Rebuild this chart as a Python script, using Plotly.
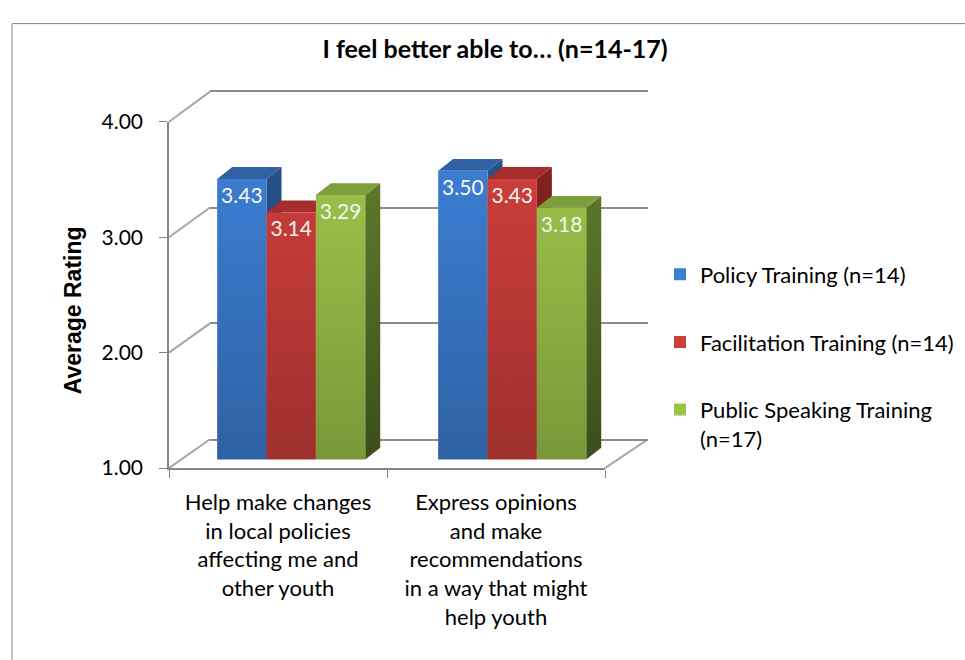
import plotly.graph_objects as go

# ---------------- data ----------------
categories = [
    "Help make changes<br>in local policies<br>affecting me and<br>other youth",
    "Express opinions<br>and make<br>recommendations<br>in a way that might<br>help youth",
]
series_names = [
    "Policy Training (n=14)",
    "Facilitation Training (n=14)",
    "Public Speaking Training<br>(n=17)",
]
policy = [3.43, 3.50]
facilitation = [3.14, 3.43]
public_speaking = [3.29, 3.18]
y_ticks = [1, 2, 3, 4]
title_text = "I feel better able to… (n=14-17)"
y_title = "Average Rating"

# ---------------- styling / geometry ----------------
W, H = 965, 660


def px(x):
    return x / W


def py(y):
    return 1 - y / H


front_colors = ["#3C7ED3", "#CD3E3B", "#9DC44A"]
top_colors = ["#2F61A3", "#A52D2B", "#7C9E3B"]
side_colors = ["#28528C", "#85231F", "#5F7C2B"]
grid_col = "#8C8C8C"
axis_col = "#868686"
FONT = "Lato"

BAR_X = (180.7, 622.7)
BAR_Y = (463, 103)
WALL_X = (210, 648)
WALL_Y = (442, 80.7)
FRONT_X = (169, 605)
FRONT_Y = (472, 112)
Y_RANGE = [1, 4]
X_RANGE = [-0.5, 1.5]

BARGAP = 0.33
bar_w = (1 - BARGAP) / 3
dx = 15 / (BAR_X[1] - BAR_X[0]) * (X_RANGE[1] - X_RANGE[0])
dy = 12.3 / (BAR_Y[0] - BAR_Y[1]) * (Y_RANGE[1] - Y_RANGE[0])

all_series = [policy, facilitation, public_speaking]
group_pos = list(range(len(categories)))

fig = go.Figure()

# subplot 1: back wall (gridlines)
fig.add_trace(go.Scatter(x=[0.5], y=[2], mode="none", showlegend=False,
                         hoverinfo="skip", xaxis="x", yaxis="y"))

# subplot 2: 3D side and top faces (drawn below front faces)
for k, vals in enumerate(all_series):
    sx, sy, tx, ty = [], [], [], []
    for g, v in zip(group_pos, vals):
        xr = g + (k - 1) * bar_w + bar_w / 2
        xl = xr - bar_w
        sx += [xr, xr, xr + dx, xr + dx, xr, None]
        sy += [1, v, v + dy, 1 + dy, 1, None]
        tx += [xl, xr, xr + dx, xl + dx, xl, None]
        ty += [v, v, v + dy, v + dy, v, None]
    fig.add_trace(go.Scatter(
        x=sx, y=sy, mode="lines", fill="toself", line=dict(width=0),
        fillgradient=dict(type="vertical",
                          colorscale=[[0, "rgba(0,0,0,1)"], [1, side_colors[k]]],
                          start=-3, stop=3.6),
        fillcolor=side_colors[k],
        showlegend=False, hoverinfo="skip", xaxis="x2", yaxis="y2"))
    fig.add_trace(go.Scatter(
        x=tx, y=ty, mode="lines", fill="toself", line=dict(width=0),
        fillcolor=top_colors[k], showlegend=False, hoverinfo="skip",
        xaxis="x2", yaxis="y2"))

# subplot 3: front faces (bars)
for k, vals in enumerate(all_series):
    fig.add_trace(go.Bar(
        x=group_pos, y=vals, name=series_names[k],
        marker=dict(color=front_colors[k], line=dict(width=0)),
        texttemplate="%{y:.2f}", textposition="inside", insidetextanchor="end",
        textangle=0, constraintext="none",
        textfont=dict(family=FONT, size=21, color="white"),
        legendgroup=str(k),
        xaxis="x3", yaxis="y3"))

# shading overlay on front faces
ox, oy = [], []
for k, vals in enumerate(all_series):
    for g, v in zip(group_pos, vals):
        xc = g + (k - 1) * bar_w
        ox += [xc - bar_w / 2, xc + bar_w / 2, xc + bar_w / 2, xc - bar_w / 2, xc - bar_w / 2, None]
        oy += [1, 1, v, v, 1, None]
fig.add_trace(go.Scatter(
    x=ox, y=oy, mode="lines", fill="toself", line=dict(width=0),
    fillgradient=dict(type="vertical",
                      colorscale=[[0, "rgba(0,0,0,0.24)"], [1, "rgba(0,0,0,0)"]],
                      start=1, stop=3.6),
    showlegend=False, hoverinfo="skip", xaxis="x3", yaxis="y3"))

# subplot 4: front axes with labels
fig.add_trace(go.Scatter(x=categories, y=[2, 2], mode="none", showlegend=False,
                         hoverinfo="skip", xaxis="x4", yaxis="y4"))

# wall diagonals and floor edge
shapes = []
for v in y_ticks:
    f = (v - Y_RANGE[0]) / (Y_RANGE[1] - Y_RANGE[0])
    yf = py(FRONT_Y[0] + f * (FRONT_Y[1] - FRONT_Y[0]))
    yb = py(WALL_Y[0] + f * (WALL_Y[1] - WALL_Y[0]))
    shapes.append(dict(type="line", xref="paper", yref="paper",
                       x0=px(FRONT_X[0]), y0=yf, x1=px(WALL_X[0]), y1=yb,
                       line=dict(color="#A6A6A6", width=2), layer="below"))
shapes.append(dict(type="line", xref="paper", yref="paper",
                   x0=px(FRONT_X[1]), y0=py(FRONT_Y[0]), x1=px(WALL_X[1]), y1=py(WALL_Y[0]),
                   line=dict(color="#A6A6A6", width=2), layer="below"))
shapes.append(dict(type="rect", xref="paper", yref="paper",
                   x0=px(12), y0=py(10), x1=1.2, y1=-0.2,
                   line=dict(color=axis_col, width=1), fillcolor="rgba(0,0,0,0)", layer="below"))

hidden = dict(visible=False, fixedrange=True)

fig.update_layout(
    width=W, height=H,
    margin=dict(l=0, r=0, t=0, b=0),
    paper_bgcolor="white", plot_bgcolor="rgba(0,0,0,0)",
    barmode="group", bargap=BARGAP, bargroupgap=0,
    showlegend=True,
    title=dict(text="<b>" + title_text + "</b>", x=px(495), xanchor="center",
               y=py(37), yanchor="middle", xref="paper", yref="paper",
               font=dict(family=FONT, size=25, color="black")),
    font=dict(family=FONT, color="black"),
    xaxis=dict(domain=[px(WALL_X[0]), px(WALL_X[1])], range=[0, 1], anchor="y",
               showline=True, mirror=True, linecolor=grid_col, linewidth=2,
               showgrid=False, zeroline=False, showticklabels=False, ticks=""),
    yaxis=dict(domain=[py(WALL_Y[0]), py(WALL_Y[1])], range=Y_RANGE, anchor="x",
               tickvals=y_ticks, showgrid=True, gridcolor=grid_col, gridwidth=2,
               zeroline=False, showticklabels=False, ticks="", showline=False),
    xaxis2=dict(domain=[px(BAR_X[0]), px(BAR_X[1])], range=X_RANGE, anchor="y2", **hidden),
    yaxis2=dict(domain=[py(BAR_Y[0]), py(BAR_Y[1])], range=Y_RANGE, anchor="x2", **hidden),
    xaxis3=dict(domain=[px(BAR_X[0]), px(BAR_X[1])], range=X_RANGE, anchor="y3", **hidden),
    yaxis3=dict(domain=[py(BAR_Y[0]), py(BAR_Y[1])], range=Y_RANGE, anchor="x3", **hidden),
    xaxis4=dict(domain=[px(FRONT_X[0]), px(FRONT_X[1])], anchor="y4", type="category",
                range=X_RANGE, tickson="boundaries", ticks="outside", ticklen=8,
                tickcolor=axis_col, showline=True, linecolor=axis_col, linewidth=1.5,
                showgrid=False, zeroline=False, ticklabelstandoff=14,
                tickfont=dict(family=FONT, size=22, color="black"), fixedrange=True),
    yaxis4=dict(domain=[py(FRONT_Y[0]), py(FRONT_Y[1])], range=Y_RANGE, anchor="x4",
                tickvals=y_ticks, tickformat=".2f", ticks="outside", ticklen=8,
                tickcolor=axis_col, showline=True, linecolor=axis_col, linewidth=1.5,
                showgrid=False, zeroline=False, ticklabelstandoff=12,
                tickfont=dict(family=FONT, size=21, color="black"), fixedrange=True),
    legend=dict(x=px(660), y=py(249), xanchor="left", yanchor="top",
                font=dict(family=FONT, size=22, color="black"),
                tracegroupgap=36, valign="top", bgcolor="rgba(0,0,0,0)"),
    shapes=shapes,
    annotations=[dict(text="<b>" + y_title + "</b>", textangle=-90, x=px(58), y=py(308),
                      xref="paper", yref="paper", showarrow=False,
                      font=dict(family="Liberation Sans", size=23, color="black"))],
)

fig.write_html("out.html")
